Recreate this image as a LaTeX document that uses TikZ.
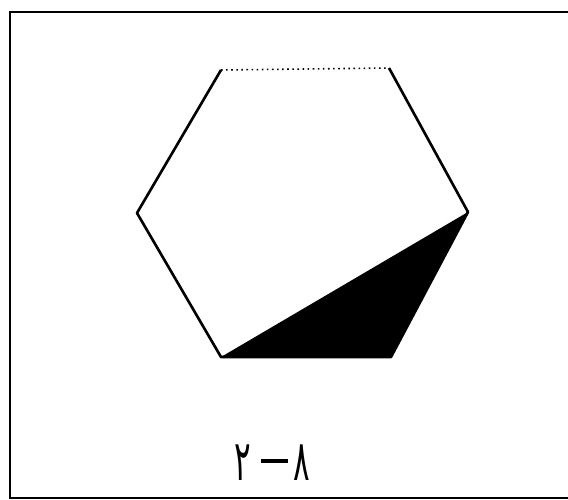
\documentclass[tikz,border=0pt]{standalone}
\usepackage{fontspec}
\usepackage{tikz}
\newfontfamily\arabicfont[Script=Arabic]{DejaVu Sans}
\tikzset{
  hexedge/.style={draw=black, line width=1.5pt, line join=round},
  topedge/.style={draw=black, line width=0.9pt, dotted},
  frame/.style={draw=black, line width=1.6pt},
  caption/.style={font=\arabicfont\fontsize{32}{36}\selectfont, text=black,
    inner sep=0pt, xscale=0.55, transform shape, anchor=base}
}

\begin{document}
\begin{tikzpicture}[x=0.02cm, y=-0.02cm]
  \useasboundingbox (0,0) rectangle (568,500);
  \clip (0,0) rectangle (568,500);
  \draw[frame] (10,12) rectangle (580,498);

  % hexagon corners
  \coordinate (tl) at (221,70);
  \coordinate (tr) at (389,68);
  \coordinate (r)  at (468,212);
  \coordinate (br) at (391,357);
  \coordinate (bl) at (221,357);
  \coordinate (l)  at (137,213);

  \fill[black] (bl) -- (r) -- (br) -- cycle;
  \draw[hexedge] (tr) -- (r) -- (br) -- (bl) -- (l) -- (tl);
  \draw[topedge] (tl) -- (tr);

  \node (cap) [caption] at (272,480) {٢\hspace{0.35em}\rule[0.3em]{0.87em}{0.07em}\hspace{0.16em}٨};
\end{tikzpicture}
\end{document}
